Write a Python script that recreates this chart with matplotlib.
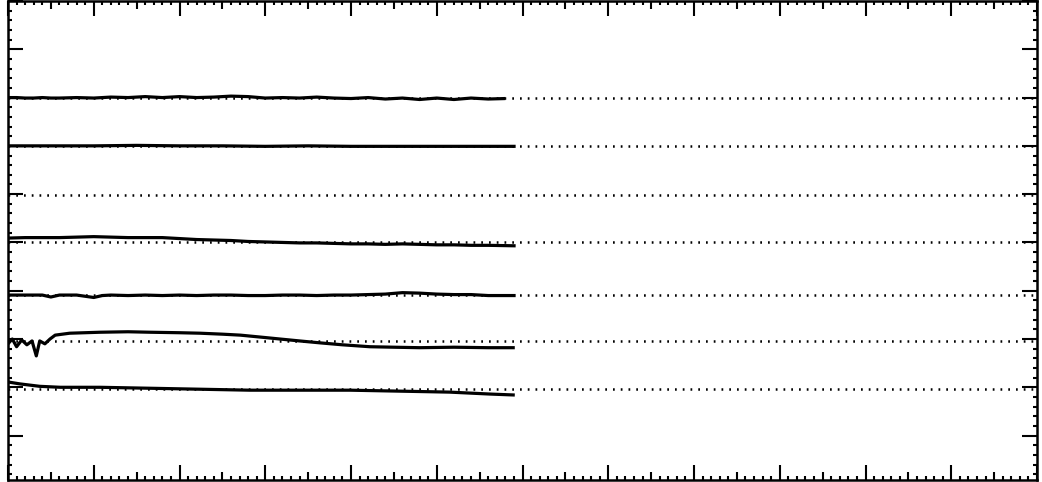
import numpy as np
import matplotlib
matplotlib.use('Agg')
import matplotlib.pyplot as plt
from matplotlib.ticker import MultipleLocator

# reference levels (dotted)
levels = [1.96, 2.96, 3.91, 5.0, 5.98, 7.0, 8.0]

# measured traces (solid), left half only: x and deviation from their level
x8 = [0, 0.1, 0.2, 0.3, 0.4, 0.5, 0.6, 0.8, 1.0, 1.2, 1.4, 1.6, 1.8, 2.0, 2.2, 2.4, 2.6, 2.8,
      3.0, 3.2, 3.4, 3.6, 3.8, 4.0, 4.2, 4.4, 4.6, 4.8, 5.0, 5.2, 5.4, 5.6, 5.8]
d8 = [0.0, 0.0, -0.01, -0.01, 0.0, -0.01, -0.01, 0.0, -0.01, 0.01, 0.0, 0.02, 0.0, 0.02, 0.0, 0.01, 0.03, 0.02,
      -0.01, 0.0, -0.01, 0.01, -0.01, -0.02, 0.0, -0.03, -0.01, -0.04, -0.01, -0.04, -0.01, -0.03, -0.02]

x7 = [0, 0.5, 1.0, 1.5, 2.0, 2.5, 3.0, 3.5, 4.0, 4.5, 5.0, 5.5, 5.92]
d7 = [0.0, 0.0, 0.0, 0.01, 0.0, 0.0, -0.01, 0.0, -0.01, -0.01, -0.01, -0.01, -0.01]

x5 = [0, 0.2, 0.4, 0.6, 0.8, 1.0, 1.2, 1.4, 1.6, 1.8, 2.0, 2.2, 2.4, 2.6, 2.8, 3.0, 3.2, 3.4,
      3.6, 3.8, 4.0, 4.2, 4.4, 4.6, 4.8, 5.0, 5.2, 5.4, 5.6, 5.92]
d5 = [0.09, 0.10, 0.10, 0.10, 0.11, 0.12, 0.11, 0.10, 0.10, 0.10, 0.08, 0.06, 0.05, 0.04, 0.02, 0.01, 0.0, -0.01,
      -0.01, -0.02, -0.03, -0.03, -0.04, -0.03, -0.04, -0.05, -0.05, -0.06, -0.06, -0.07]

x4 = [0, 0.2, 0.4, 0.5, 0.6, 0.8, 1.0, 1.1, 1.2, 1.4, 1.6, 1.8, 2.0, 2.2, 2.4, 2.6, 2.8, 3.0,
      3.2, 3.4, 3.6, 3.8, 4.0, 4.2, 4.4, 4.6, 4.8, 5.0, 5.2, 5.4, 5.6, 5.8, 5.92]
d4 = [0.0, 0.0, 0.0, -0.04, 0.0, 0.0, -0.05, -0.01, 0.0, -0.01, 0.0, -0.01, 0.0, -0.01, 0.0, 0.0, -0.01, -0.01,
      0.0, 0.0, -0.01, 0.0, 0.0, 0.01, 0.02, 0.05, 0.04, 0.02, 0.01, 0.01, -0.01, -0.01, -0.01]

x3 = [0, 0.05, 0.1, 0.16, 0.22, 0.28, 0.33, 0.37, 0.43, 0.49, 0.55, 0.72, 1.07, 1.4, 1.66, 2.0,
      2.24, 2.5, 2.71, 3.0, 3.17, 3.4, 3.64, 3.9, 4.22, 4.5, 4.8, 5.2, 5.6, 5.91]
d3 = [-0.06, 0.04, -0.12, 0.02, -0.08, 0.0, -0.31, 0.0, -0.06, 0.04, 0.12, 0.16, 0.18, 0.19, 0.18, 0.17,
      0.16, 0.14, 0.12, 0.07, 0.04, 0.0, -0.04, -0.08, -0.12, -0.13, -0.14, -0.13, -0.14, -0.14]

x2 = [0, 0.14, 0.37, 0.61, 1.07, 1.66, 2.24, 2.82, 3.4, 3.99, 4.57, 5.15, 5.62, 5.91]
d2 = [0.15, 0.11, 0.06, 0.04, 0.04, 0.02, 0.0, -0.02, -0.02, -0.02, -0.04, -0.06, -0.10, -0.12]

traces = [(8.0, x8, d8), (7.0, x7, d7), (5.0, x5, d5), (3.91, x4, d4), (2.96, x3, d3), (1.96, x2, d2)]

fig = plt.figure(figsize=(10.42, 4.82), dpi=100)
ax = fig.add_axes([8/1042, 2/482, 1029/1042, 479/482])

for lv in levels:
    ax.axhline(lv, color='black', lw=1.8, linestyle=(0, (0.7, 2.4)), zorder=2)
for lv, xs, ds in traces:
    ax.plot(xs, lv + np.array(ds), color='black', lw=2.3, solid_capstyle='butt', zorder=3)

ax.set_xlim(0, 12)
ax.set_ylim(0.08, 10)

ax.xaxis.set_major_locator(MultipleLocator(0.5))
ax.xaxis.set_minor_locator(MultipleLocator(0.1))
ax.yaxis.set_major_locator(MultipleLocator(1))
ax.yaxis.set_minor_locator(MultipleLocator(0.2))
ax.tick_params(which='both', direction='in', top=True, right=True,
               labelbottom=False, labelleft=False, width=1.5, color='black')
ax.tick_params(which='major', length=11)
ax.tick_params(which='minor', length=3)

# half-unit ticks shorter than the whole-unit ones
for val, t in zip(ax.get_xticks(), ax.xaxis.get_major_ticks()):
    if abs(val - round(val)) > 0.01:
        t.tick1line.set_markersize(5.5)
        t.tick2line.set_markersize(5.5)

for s in ax.spines.values():
    s.set_linewidth(1.8)

fig.savefig('out.png', dpi=100)
